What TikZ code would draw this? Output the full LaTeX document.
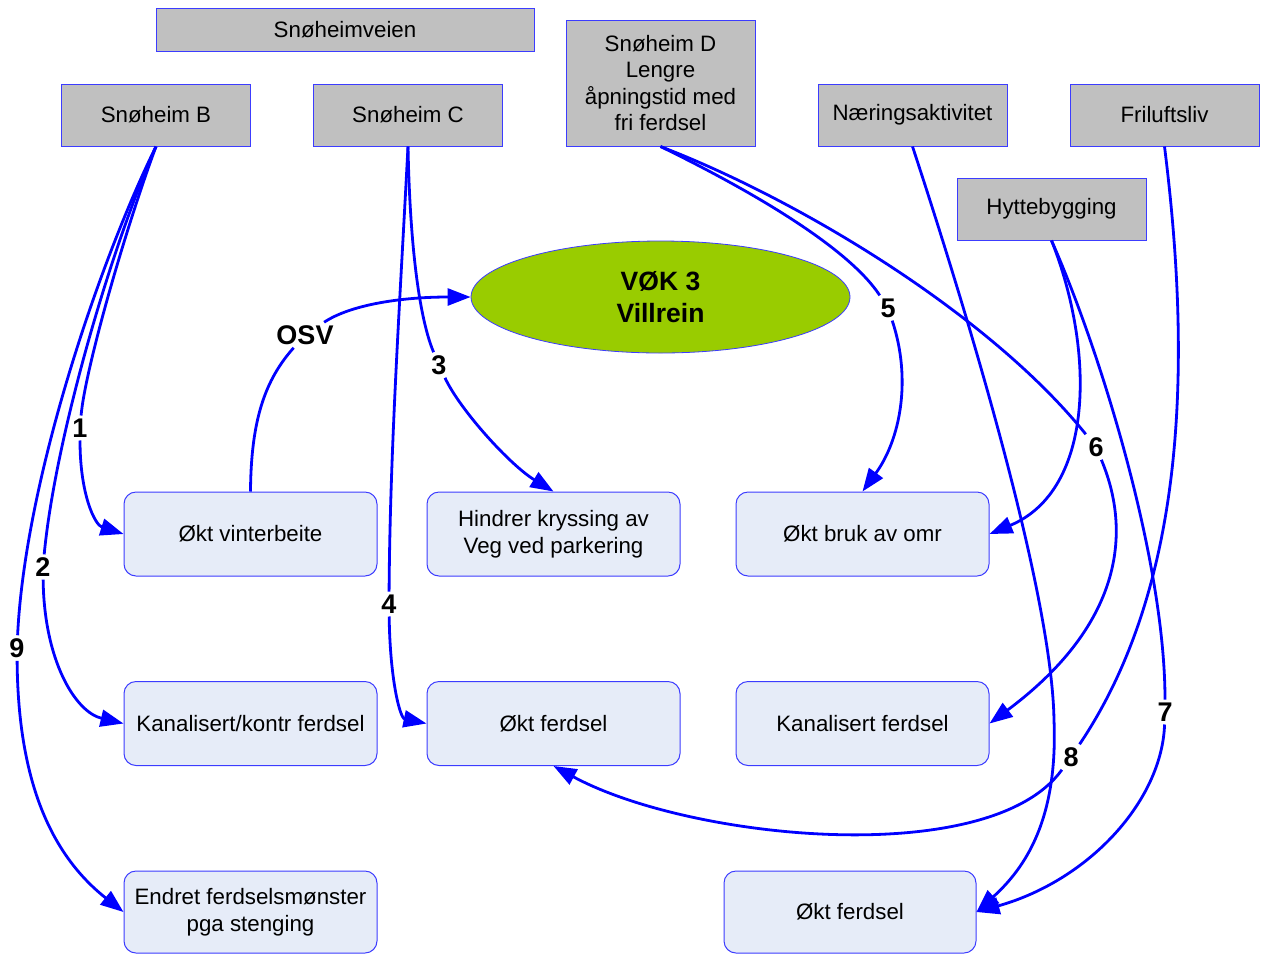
\documentclass[tikz,border=0pt]{standalone}
\usepackage{fontspec}
\setmainfont{Liberation Sans}
\usetikzlibrary{arrows.meta,shapes.geometric}

\definecolor{edgeblue}{RGB}{0,0,255}
\definecolor{frameblue}{RGB}{60,60,255}
\definecolor{greybox}{RGB}{192,192,192}
\definecolor{paleblue}{RGB}{230,236,248}
\definecolor{villgreen}{RGB}{153,204,0}

\tikzset{
  srcbox/.style={rectangle, draw=frameblue, line width=1pt, fill=greybox,
    minimum width=189, minimum height=62, align=center, inner sep=2pt,
    font=\fontsize{22.3}{26.5}\selectfont},
  effbox/.style={rectangle, rounded corners=12pt, draw=frameblue, line width=1pt,
    fill=paleblue, minimum width=253, minimum height=84, align=center,
    inner sep=2pt, font=\fontsize{22.3}{26.5}\selectfont},
  tag/.style={font=\fontsize{27}{28}\selectfont\bfseries, inner sep=3pt},
  link/.style={draw=edgeblue, line width=2.8pt},
  arrowlink/.style={link, -{Triangle[length=23pt,width=17pt]}},
}

\begin{document}
\begin{tikzpicture}[x=1pt,y=-1pt]
\useasboundingbox (0,0) rectangle (1269,954);

% source boxes
\node[srcbox, minimum width=378, minimum height=43] (sv) at (345,29.5) {Snøheimveien};
\node[srcbox] (sB) at (156,115) {Snøheim B};
\node[srcbox] (sC) at (408,115) {Snøheim C};
\node[srcbox, minimum height=126] (sD) at (660.5,83) {Snøheim D\\Lengre\\åpningstid med\\fri ferdsel};
\node[srcbox] (nar) at (912.5,115) {Næringsaktivitet};
\node[srcbox] (fri) at (1164.5,115) {Friluftsliv};
\node[srcbox] (hyt) at (1051.5,209) {Hyttebygging};

% central ellipse
\node[ellipse, draw=frameblue, line width=0.8pt, fill=villgreen, minimum width=379,
  minimum height=112, inner sep=0pt, align=center,
  font=\fontsize{26.5}{32}\selectfont\bfseries] (vok) at (660.5,297) {VØK 3\\Villrein};

% effect boxes
\node[effbox] (vint) at (250.5,534) {Økt vinterbeite};
\node[effbox] (hind) at (553.5,534) {Hindrer kryssing av\\Veg ved parkering};
\node[effbox] (bruk) at (862.5,534) {Økt bruk av omr};
\node[effbox] (kank) at (250.5,723.5) {Kanalisert/kontr ferdsel};
\node[effbox] (okf) at (553.5,723.5) {Økt ferdsel};
\node[effbox] (kanf) at (862.5,723.5) {Kanalisert ferdsel};
\node[effbox, minimum height=82] (endr) at (250.5,912) {Endret ferdselsmønster\\pga stenging};
\node[effbox, minimum width=252, minimum height=82] (okf2) at (850,912) {Økt ferdsel};

% edge labels
\node[tag] (l1) at (80,428) {1};
\node[tag] (l2) at (43,567) {2};
\node[tag] (l9) at (17,648) {9};
\node[tag] (lo) at (305,335) {OSV};
\node[tag] (l3) at (439,365) {3};
\node[tag] (l4) at (389,604) {4};
\node[tag] (l5) at (888,308) {5};
\node[tag] (l6) at (1096,447) {6};
\node[tag] (l7) at (1165,712) {7};
\node[tag] (l8) at (1071,757) {8};

% 1
\draw[link] (sB.south) .. controls (125,230) and (85,370) .. (l1);
\draw[arrowlink] (l1) .. controls (80,495) and (95,525) .. (vint.west);
% 2
\draw[link] (sB.south) .. controls (110,250) and (55,440) .. (l2);
\draw[arrowlink] (l2) .. controls (44,660) and (75,712) .. (kank.west);
% 9
\draw[link] (sB.south) .. controls (100,260) and (25,480) .. (l9);
\draw[arrowlink] (l9) .. controls (18,770) and (45,850) .. (endr.west);
% OSV
\draw[link] (vint.north) .. controls (251,420) and (265,380) .. (lo);
\draw[arrowlink] (lo) .. controls (350,305) and (400,297) .. (vok.west);
% 3
\draw[link] (sC.south) .. controls (410,250) and (420,320) .. (l3);
\draw[arrowlink] (l3) .. controls (460,410) and (510,465) .. (hind.north);
% 4
\draw[link] (sC.south) .. controls (400,300) and (390,450) .. (l4);
\draw[arrowlink] (l4) .. controls (390,680) and (400,718) .. (okf.west);
% 5
\draw[link] (sD.south) .. controls (760,195) and (850,250) .. (l5);
\draw[arrowlink] (l5) .. controls (912,380) and (900,440) .. (bruk.north);
% 6
\draw[link] (sD.south) .. controls (800,200) and (990,315) .. (l6);
\draw[arrowlink] (l6) .. controls (1135,540) and (1115,630) .. (kanf.east);
% Hyttebygging -> Økt bruk av omr
\draw[arrowlink] (hyt.south) .. controls (1095,350) and (1095,490) .. (bruk.east);
% 7
\draw[link] (hyt.south) .. controls (1100,350) and (1165,560) .. (l7);
\draw[arrowlink] (l7) .. controls (1162,800) and (1090,880) .. (okf2.east);
% Næringsaktivitet -> Økt ferdsel
\draw[arrowlink] (nar.south) .. controls (978,346) and (1052,600) .. (1054,720)
  .. controls (1058,820) and (1025,868) .. (okf2.east);
% 8
\draw[link] (fri.south) .. controls (1190,350) and (1190,580) .. (l8);
\draw[arrowlink] (l8) .. controls (990,870) and (690,840) .. (okf.south);
\end{tikzpicture}
\end{document}
